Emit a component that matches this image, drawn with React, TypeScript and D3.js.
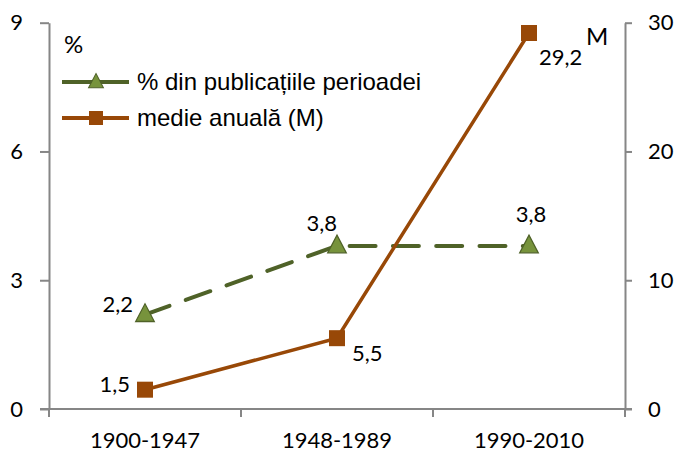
import * as d3 from "d3";
import { useEffect, useRef } from "react";

// periods on the x axis
const periods = ["1900-1947", "1948-1989", "1990-2010"];
// % din publicatiile perioadei (left axis)
const percentValues = [2.2, 3.8, 3.8];
// medie anuala (M) (right axis)
const meanValues = [1.5, 5.5, 29.2];
const percentLabels = ["2,2", "3,8", "3,8"];
const meanLabels = ["1,5", "5,5", "29,2"];
const leftTicks = [0, 3, 6, 9];
const rightTicks = [0, 10, 20, 30];
const legendNames = ["% din publicațiile perioadei", "medie anuală (M)"];

export default function App() {
  const svgRef = useRef<SVGSVGElement>(null);
  const width = 676;
  const height = 453;

  useEffect(() => {
    document.body.style.margin = "0";
    const svg = d3.select(svgRef.current);
    svg.selectAll("*").remove();

    const left = 49, right = 625, top = 22.7, bottom = 409;
    const green = "#4F6228";
    const greenFill = "#77933C";
    const brown = "#984807";
    const axisGrey = "#868686";
    const numFont = "Lato, 'Open Sans', sans-serif";

    const x = d3.scaleBand<string>().domain(periods).range([left, right]).padding(0);
    const yL = d3.scaleLinear().domain([0, 9]).range([bottom, top]);
    const yR = d3.scaleLinear().domain([0, 30]).range([bottom, top]);
    const cx = (d: string) => (x(d) ?? 0) + x.bandwidth() / 2;

    // left axis
    const gL = svg.append("g").attr("transform", `translate(${left},0)`)
      .call(d3.axisLeft(yL).tickValues(leftTicks).tickSizeInner(9).tickSizeOuter(0).tickPadding(17));
    // right axis
    const gR = svg.append("g").attr("transform", `translate(${right},0)`)
      .call(d3.axisRight(yR).tickValues(rightTicks).tickSizeInner(7).tickSizeOuter(0).tickPadding(16));
    // bottom axis, labels only
    const gB = svg.append("g").attr("transform", `translate(0,${bottom})`)
      .call(d3.axisBottom(x).tickSize(0).tickPadding(23));
    gB.select(".domain").remove();

    [gL, gR].forEach(g => {
      g.select(".domain").attr("stroke", axisGrey).attr("stroke-width", 2);
    });
    [gL, gR, gB].forEach(g => {
      g.selectAll(".tick line").attr("stroke", axisGrey).attr("stroke-width", 2);
      g.selectAll("text").attr("font-family", numFont).attr("font-size", 22).attr("fill", "#000");
    });

    // horizontal baseline with boundary ticks
    svg.append("line")
      .attr("x1", left - 9).attr("x2", right + 7)
      .attr("y1", bottom).attr("y2", bottom)
      .attr("stroke", axisGrey).attr("stroke-width", 2);
    const bounds = periods.map(p => x(p) ?? 0).concat([right]);
    svg.selectAll(".btick").data(bounds).join("line")
      .attr("x1", d => d).attr("x2", d => d)
      .attr("y1", bottom).attr("y2", bottom + 8)
      .attr("stroke", axisGrey).attr("stroke-width", 2);

    // green dashed line
    const lineL = d3.line<number>().x((_, i) => cx(periods[i])).y(d => yL(d));
    svg.append("path").datum(percentValues)
      .attr("fill", "none").attr("stroke", green).attr("stroke-width", 4)
      .attr("stroke-linecap", "round").attr("stroke-dasharray", "26 17.3")
      .attr("d", lineL);

    // brown line
    const lineR = d3.line<number>().x((_, i) => cx(periods[i])).y(d => yR(d));
    svg.append("path").datum(meanValues)
      .attr("fill", "none").attr("stroke", brown).attr("stroke-width", 3.5)
      .attr("d", lineR);

    const tri = d3.symbol().type(d3.symbolTriangle).size(150);
    svg.selectAll(".tri").data(percentValues).join("path")
      .attr("d", tri)
      .attr("transform", (d, i) => `translate(${cx(periods[i])},${yL(d) + 1}) scale(1,1.1)`)
      .attr("fill", greenFill).attr("stroke", green).attr("stroke-width", 1.2);

    svg.selectAll(".sq").data(meanValues).join("rect")
      .attr("x", (_, i) => cx(periods[i]) - 8)
      .attr("y", d => yR(d) - 8)
      .attr("width", 16).attr("height", 16)
      .attr("fill", brown);

    // data labels
    const pctOffsets = [[-12, -3, "end"], [0, -15, "end"], [2, -24, "middle"]];
    svg.selectAll(".plab").data(percentValues).join("text")
      .attr("x", (_, i) => cx(periods[i]) + (pctOffsets[i][0] as number))
      .attr("y", (d, i) => yL(d) + (pctOffsets[i][1] as number))
      .attr("text-anchor", (_, i) => pctOffsets[i][2] as string)
      .attr("font-family", numFont).attr("font-size", 22)
      .text((_, i) => percentLabels[i]);

    const meanOffsets = [[-15, 2], [15, 23], [10, 32]];
    svg.selectAll(".mlab").data(meanValues).join("text")
      .attr("x", (_, i) => cx(periods[i]) + meanOffsets[i][0])
      .attr("y", (d, i) => yR(d) + meanOffsets[i][1])
      .attr("text-anchor", (_, i) => (i === 0 ? "end" : "start"))
      .attr("font-family", numFont).attr("font-size", 22)
      .text((_, i) => meanLabels[i]);

    // axis unit labels
    svg.append("text").attr("x", 64).attr("y", 53)
      .attr("font-family", numFont).attr("font-size", 24).text("%");
    svg.append("text").attr("x", 586).attr("y", 45)
      .attr("font-family", numFont).attr("font-size", 24).text("M");

    // legend
    const legend = svg.append("g");
    const rows = [82, 118];
    legend.append("line").attr("x1", 62).attr("x2", 129).attr("y1", rows[0]).attr("y2", rows[0])
      .attr("stroke", green).attr("stroke-width", 4);
    legend.append("path").attr("d", d3.symbol().type(d3.symbolTriangle).size(95))
      .attr("transform", `translate(96,${rows[0] + 1}) scale(1,1.1)`)
      .attr("fill", greenFill).attr("stroke", green).attr("stroke-width", 1);
    legend.append("line").attr("x1", 62).attr("x2", 129).attr("y1", rows[1]).attr("y2", rows[1])
      .attr("stroke", brown).attr("stroke-width", 4);
    legend.append("rect").attr("x", 89).attr("y", rows[1] - 7).attr("width", 14).attr("height", 14)
      .attr("fill", brown);
    legend.selectAll(".ltxt").data(legendNames).join("text")
      .attr("x", 137).attr("y", (_, i) => rows[i] + 8)
      .attr("font-family", "'Liberation Sans', Arial, sans-serif").attr("font-size", 24)
      .text(d => d);
  }, []);

  return <svg ref={svgRef} width={width} height={height} style={{ display: "block", background: "#fff" }} />;
}
